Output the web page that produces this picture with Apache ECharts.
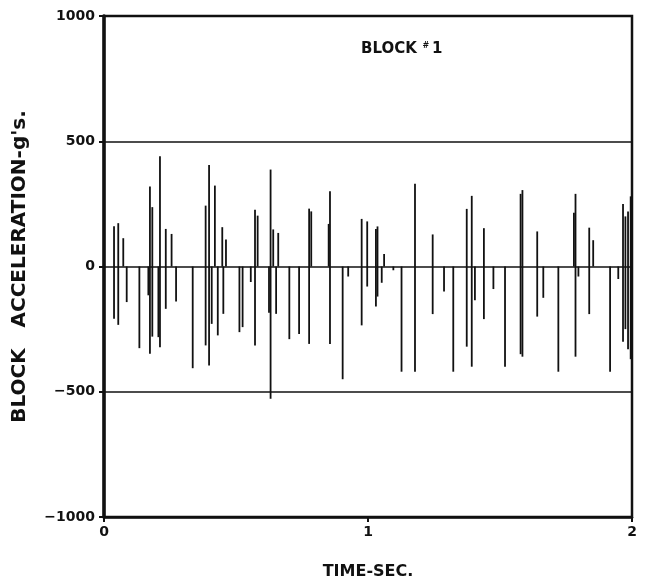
<!DOCTYPE html>
<html>
<head>
<meta charset="utf-8">
<script src="https://cdn.jsdelivr.net/npm/echarts@6/dist/echarts.min.js"></script>
<style>
html,body{margin:0;padding:0;background:#fff;}
#chart{width:649px;height:586px;}
</style>
</head>
<body>
<div id="chart"></div>
<script>
// Spike times (sec)
const times = [
  0.038, 0.054, 0.073, 0.086, 0.134, 0.168, 0.174, 0.183, 0.206, 0.212,
  0.234, 0.256, 0.273, 0.336, 0.385, 0.398, 0.408, 0.420, 0.431, 0.448,
  0.452, 0.462, 0.513, 0.525, 0.556, 0.572, 0.582, 0.625, 0.631, 0.641,
  0.652, 0.660, 0.702, 0.739, 0.777, 0.785, 0.851, 0.856, 0.904, 0.925,
  0.976, 0.997, 1.030, 1.036, 1.052, 1.061, 1.096, 1.127, 1.178, 1.245,
  1.288, 1.323, 1.374, 1.393, 1.405, 1.439, 1.475, 1.519, 1.578, 1.585,
  1.641, 1.664, 1.721, 1.780, 1.786, 1.797, 1.838, 1.853, 1.917, 1.948,
  1.966, 1.975, 1.985, 1.995
];
// Positive peak of each spike (g's)
const highs = [
  161, 173, 113, 0, 0, 0, 319, 237, 0, 440,
  150, 130, 0, 0, 243, 405, 0, 323, 0, 157,
  0, 108, 0, 0, 0, 227, 203, 0, 387, 148,
  0, 134, 0, 0, 231, 220, 170, 300, 0, 0,
  190, 180, 150, 160, 0, 50, 0, 0, 330, 128,
  0, 0, 230, 282, 0, 153, 0, 0, 290, 305,
  140, 0, 0, 215, 290, 0, 155, 105, 0, 0,
  250, 200, 220, 280
];
// Negative peak of each spike (g's)
const lows = [
  -209, -233, 0, -142, -326, -115, -348, -280, -282, -322,
  -169, 0, -140, -406, -315, -395, -229, 0, -275, 0,
  -189, 0, -262, -242, -62, -315, 0, -185, -528, 0,
  -189, 0, -290, -269, -309, 0, 0, -309, -450, -40,
  -235, -80, -160, -120, -65, 0, -15, -420, -420, -190,
  -100, -420, -320, -400, -135, -210, -90, -400, -350, -360,
  -200, -125, -420, 0, -360, -40, -190, 0, -420, -50,
  -300, -250, -330, -370
];
const xTicks = [0, 1, 2];
const yTicks = [-1000, -500, 0, 500, 1000];

const spikeData = times.map((t, i) => [t, highs[i], lows[i]]);

const chart = echarts.init(document.getElementById('chart'));
const FONT = '"DejaVu Sans", "Liberation Sans", sans-serif';
chart.setOption({
  animation: false,
  backgroundColor: '#fff',
  title: {
    left: 356, top: 37,
    text: '{a|BLOCK}{b|  #}{a|1}',
    textStyle: {
      rich: {
        a: {fontFamily: FONT, fontWeight: 'bold', fontSize: 15, color: '#111'},
        b: {fontFamily: FONT, fontWeight: 'bold', fontSize: 8, color: '#111', verticalAlign: 'top', padding: [0, 3, 7, 0]}
      }
    }
  },
  grid: {
    left: 104, right: 17, top: 16, bottom: 69,
    show: true, borderColor: '#111', borderWidth: 2.5, backgroundColor: 'transparent'
  },
  xAxis: {
    type: 'value', min: 0, max: 2, interval: 1,
    name: 'TIME-SEC.', nameLocation: 'middle', nameGap: 47,
    nameTextStyle: {fontFamily: FONT, fontSize: 16, fontWeight: 'bold', color: '#111'},
    axisLine: {show: true, onZero: false, lineStyle: {color: '#111', width: 2.5}},
    axisTick: {show: true, length: 5, lineStyle: {color: '#111', width: 2}},
    axisLabel: {
      margin: 8, fontFamily: FONT, fontWeight: 'bold', fontSize: 14, color: '#111',
      formatter: v => xTicks.includes(v) ? String(v) : ''
    },
    splitLine: {show: false}
  },
  yAxis: {
    type: 'value', min: -1000, max: 1000, interval: 500,
    name: "BLOCK   ACCELERATION-g's.", nameLocation: 'middle', nameGap: 74, nameRotate: 90,
    nameTextStyle: {fontFamily: FONT, fontWeight: 'bold', fontSize: 20, color: '#111'},
    axisLine: {show: true, lineStyle: {color: '#111', width: 3.5}},
    axisTick: {show: true, length: 5, lineStyle: {color: '#111', width: 2}},
    axisLabel: {
      margin: 9, fontFamily: FONT, fontWeight: 'bold', fontSize: 14, color: '#111',
      formatter: v => yTicks.includes(v) ? (v < 0 ? '\u2212' + Math.abs(v) : String(v)) : ''
    },
    splitLine: {show: true, lineStyle: {color: '#111', width: 1.5}}
  },
  series: [{
    type: 'custom',
    data: spikeData,
    clip: true,
    renderItem: function (params, api) {
      const t = api.value(0);
      const p1 = api.coord([t, api.value(1)]);
      const p2 = api.coord([t, api.value(2)]);
      return {
        type: 'line',
        shape: {x1: p1[0], y1: p1[1], x2: p2[0], y2: p2[1]},
        style: {stroke: '#111', lineWidth: 1.8}
      };
    }
  }]
});
</script>
</body>
</html>
